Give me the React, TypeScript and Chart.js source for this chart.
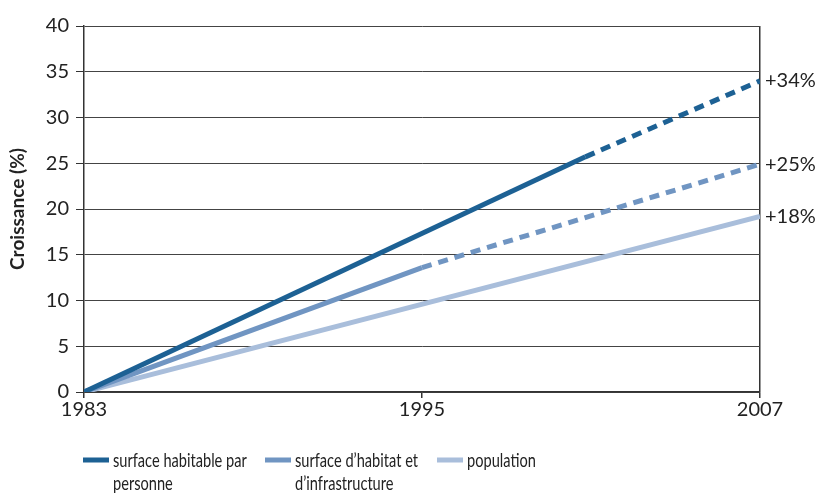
import React, { useEffect, useRef } from "react";
import { Chart, registerables } from "chart.js";

Chart.register(...registerables);

const xTicks = [1983, 1995, 2007];
const yMin = 0;
const yMax = 40;
const yStep = 5;

const seriesNames = [
  ["surface habitable par", "personne"],
  ["surface d\u2019habitat et", "d\u2019infrastructure"],
  ["population"],
];
const seriesColors = ["#1d6194", "#7095c2", "#a9bedb"];

// [year, growth %]; the last segment of the first two series is a projection (dashed)
const habitableYears = [1983, 2000.8, 2007];
const habitableValues = [0, 25.7, 34];
const habitatYears = [1983, 1995, 2007];
const habitatValues = [0, 13.6, 24.9];
const populationYears = [1983, 2007];
const populationValues = [0, 19.2];
const dashedFromIndex = [1, 1, 99];

const endLabels = ["+34%", "+25%", "+18%"];
const yTitle = "Croissance (%)";

const FONT = "Lato, 'Open Sans', sans-serif";

function toPoints(xs: number[], ys: number[]) {
  return xs.map((x, i) => ({ x, y: ys[i] }));
}

export default function App() {
  const ref = useRef<HTMLCanvasElement | null>(null);

  useEffect(() => {
    document.body.style.margin = "0";
    const canvas = ref.current;
    if (!canvas) return;

    const endLabelPlugin = {
      id: "endLabels",
      afterDatasetsDraw(chart: any) {
        const ctx = chart.ctx;
        ctx.save();
        ctx.font = `20px ${FONT}`;
        ctx.fillStyle = "#222";
        ctx.textBaseline = "middle";
        ctx.textAlign = "left";
        chart.data.datasets.forEach((ds: any, i: number) => {
          const meta = chart.getDatasetMeta(i);
          const last = meta.data[meta.data.length - 1];
          if (!last) return;
          ctx.fillText(endLabels[i], last.x + 5, last.y);
        });
        ctx.restore();
      },
    };

    const legendPlugin = {
      id: "customLegend",
      afterDraw(chart: any) {
        const ctx = chart.ctx;
        ctx.save();
        ctx.font = `20px ${FONT}`;
        ctx.textBaseline = "alphabetic";
        ctx.textAlign = "left";
        const starts = [83, 265, 437];
        const y0 = 460;
        chart.data.datasets.forEach((ds: any, i: number) => {
          const sx = starts[i];
          ctx.fillStyle = ds.borderColor;
          ctx.fillRect(sx, y0 - 2.5, 26, 5);
          ctx.fillStyle = "#222";
          const lines = seriesNames[i];
          lines.forEach((line, j) => {
            const w = ctx.measureText(line).width * 0.73;
            ctx.fillText(line, sx + 30, y0 + 7 + j * 23, w);
          });
        });
        ctx.restore();
      },
    };

    const allData = [
      toPoints(habitableYears, habitableValues),
      toPoints(habitatYears, habitatValues),
      toPoints(populationYears, populationValues),
    ];

    const chart = new Chart(canvas, {
      type: "line",
      data: {
        datasets: allData.map((d, i) => ({
          label: seriesNames[i].join(" "),
          data: d,
          borderColor: seriesColors[i],
          backgroundColor: seriesColors[i],
          borderWidth: 5,
          pointRadius: 0,
          tension: 0,
          fill: false,
          segment: {
            borderDash: (c: any) =>
              c.p0DataIndex >= dashedFromIndex[i] ? [10, 7] : undefined,
          },
        })),
      },
      options: {
        animation: false,
        responsive: false,
        maintainAspectRatio: false,
        layout: { padding: { left: 0, right: 60, top: 26, bottom: 74 } },
        plugins: {
          legend: { display: false },
          tooltip: { enabled: false },
        },
        scales: {
          x: {
            type: "linear",
            min: xTicks[0],
            max: xTicks[xTicks.length - 1],
            afterBuildTicks: (s: any) => {
              s.ticks = xTicks.map((v) => ({ value: v }));
            },
            afterFit: (s: any) => {
              s.height = 30;
            },
            border: { display: true, color: "#333", width: 1.5 },
            grid: {
              drawOnChartArea: true,
              color: (c: any) =>
                c.tick && c.tick.value === xTicks[xTicks.length - 1]
                  ? "#333"
                  : "rgba(0,0,0,0)",
              tickColor: "#333",
              tickLength: 6,
              lineWidth: 1.5,
            },
            ticks: {
              color: "#222",
              font: { family: FONT, size: 20 },
              padding: 0,
              maxRotation: 0,
              callback: (v: any) => String(v),
            },
          },
          y: {
            min: yMin,
            max: yMax,
            afterFit: (s: any) => {
              s.width = 84;
            },
            border: { display: true, color: "#333", width: 1.5 },
            grid: {
              color: "#444",
              lineWidth: 1,
              tickColor: "#333",
              tickLength: 8,
            },
            ticks: {
              stepSize: yStep,
              color: "#222",
              font: { family: FONT, size: 20 },
              padding: 7,
            },
            title: {
              display: true,
              text: yTitle,
              color: "#222",
              font: { family: FONT, size: 19, weight: "bold" },
              padding: { top: 6, bottom: 8 },
            },
          },
        },
      },
      plugins: [endLabelPlugin, legendPlugin],
    } as any);

    return () => chart.destroy();
  }, []);

  return (
    <div style={{ position: "fixed", left: 0, top: 0, width: 820, height: 496, background: "#fff" }}>
      <canvas ref={ref} width={820} height={496} style={{ display: "block", width: 820, height: 496 }} />
    </div>
  );
}
